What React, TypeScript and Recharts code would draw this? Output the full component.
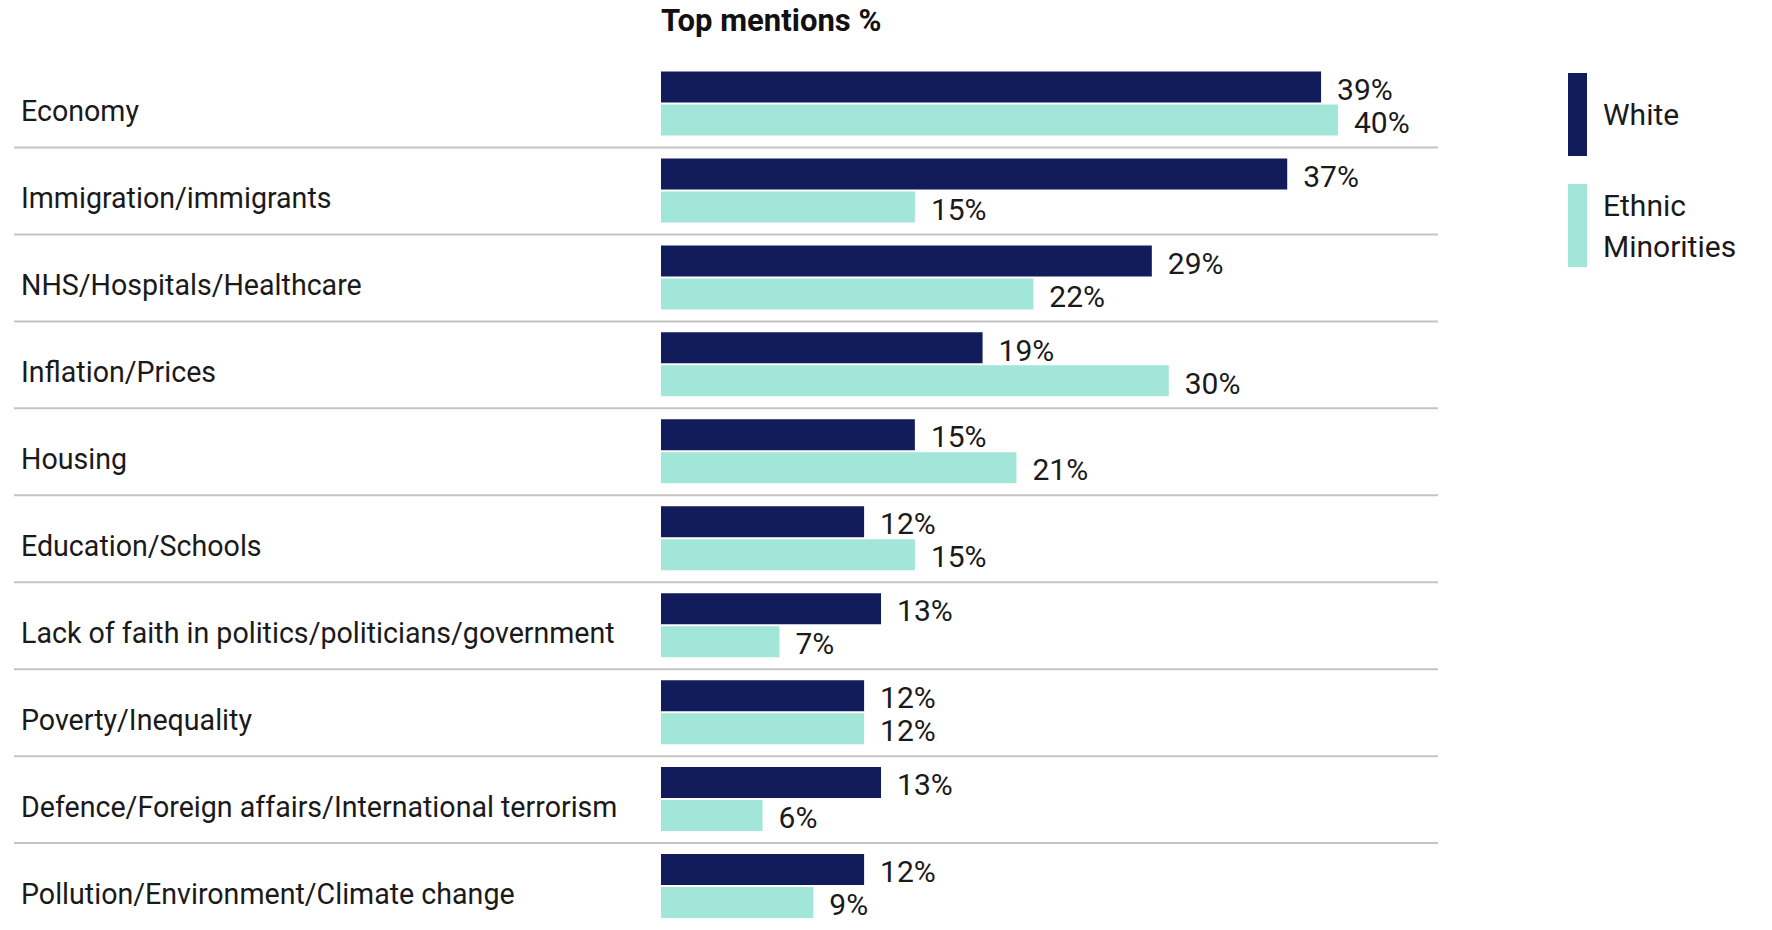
import React from 'react'
import { BarChart, Bar, XAxis, YAxis, LabelList } from 'recharts'

const categories = [
  'Economy',
  'Immigration/immigrants',
  'NHS/Hospitals/Healthcare',
  'Inflation/Prices',
  'Housing',
  'Education/Schools',
  'Lack of faith in politics/politicians/government',
  'Poverty/Inequality',
  'Defence/Foreign affairs/International terrorism',
  'Pollution/Environment/Climate change',
]
const whiteValues = [39, 37, 29, 19, 15, 12, 13, 12, 13, 12]
const ethnicValues = [40, 15, 22, 30, 21, 15, 7, 12, 6, 9]

const seriesNames = ['White', 'Ethnic Minorities']
const NAVY = '#131c5a'
const TEAL = '#a1e6d8'
const FONT = 'Roboto, "Noto Sans", sans-serif'

const data = categories.map((name, i) => ({ name, white: whiteValues[i], ethnic: ethnicValues[i] }))

const ROW_HALF = 43.5

const CategoryTick = ({ y, payload, index }: any) => (
  <g>
    <text x={21} y={y + 17} fontSize={28.6} fontFamily={FONT} fill="#1a1a1a" textAnchor="start">
      {payload.value}
    </text>
    {index < categories.length - 1 && (
      <line x1={14} x2={1438} y1={y + ROW_HALF} y2={y + ROW_HALF} stroke="#c4c4c4" strokeWidth={2} />
    )}
  </g>
)

// legend drawn as plain html so the chart keeps its full height
const LegendBox = () => (
  <div style={{ position: 'absolute', left: 1568, top: 73, fontFamily: FONT, fontSize: 30, color: '#1a1a1a' }}>
    <div style={{ display: 'flex', alignItems: 'center', height: 83 }}>
      <div style={{ width: 19, height: 83, background: NAVY, marginRight: 16 }} />
      <div style={{ lineHeight: '41px' }}>{seriesNames[0]}</div>
    </div>
    <div style={{ display: 'flex', alignItems: 'center', height: 83, marginTop: 28 }}>
      <div style={{ width: 19, height: 83, background: TEAL, marginRight: 16 }} />
      <div style={{ lineHeight: '41px' }}>Ethnic<br />Minorities</div>
    </div>
  </div>
)

export default function App() {
  return (
    <div style={{ position: 'absolute', left: 0, top: 0, width: 1772, height: 930, background: '#fff', overflow: 'hidden' }}>
      <div style={{
        position: 'absolute', left: 661, top: 6, fontFamily: FONT, fontWeight: 700,
        fontSize: 31, lineHeight: '30px', color: '#111', whiteSpace: 'nowrap',
      }}>Top mentions %</div>
      <BarChart
        width={1772}
        height={930}
        data={data}
        layout="vertical"
        margin={{ top: 60.5, right: 434, bottom: 0, left: 0 }}
        barSize={31}
        barGap={2}
      >
        <XAxis type="number" domain={[0, 40]} hide />
        <YAxis type="category" dataKey="name" width={661} axisLine={false} tickLine={false} tick={<CategoryTick />} interval={0} />
        <Bar dataKey="white" name={seriesNames[0]} fill={NAVY} isAnimationActive={false}>
          <LabelList dataKey="white" position="right" offset={16} dy={2} fontSize={30} fontFamily={FONT} fill="#1a1a1a" formatter={(v: any) => `${v}%`} />
        </Bar>
        <Bar dataKey="ethnic" name={seriesNames[1]} fill={TEAL} isAnimationActive={false}>
          <LabelList dataKey="ethnic" position="right" offset={16} dy={2} fontSize={30} fontFamily={FONT} fill="#1a1a1a" formatter={(v: any) => `${v}%`} />
        </Bar>
      </BarChart>
      <LegendBox />
    </div>
  )
}
